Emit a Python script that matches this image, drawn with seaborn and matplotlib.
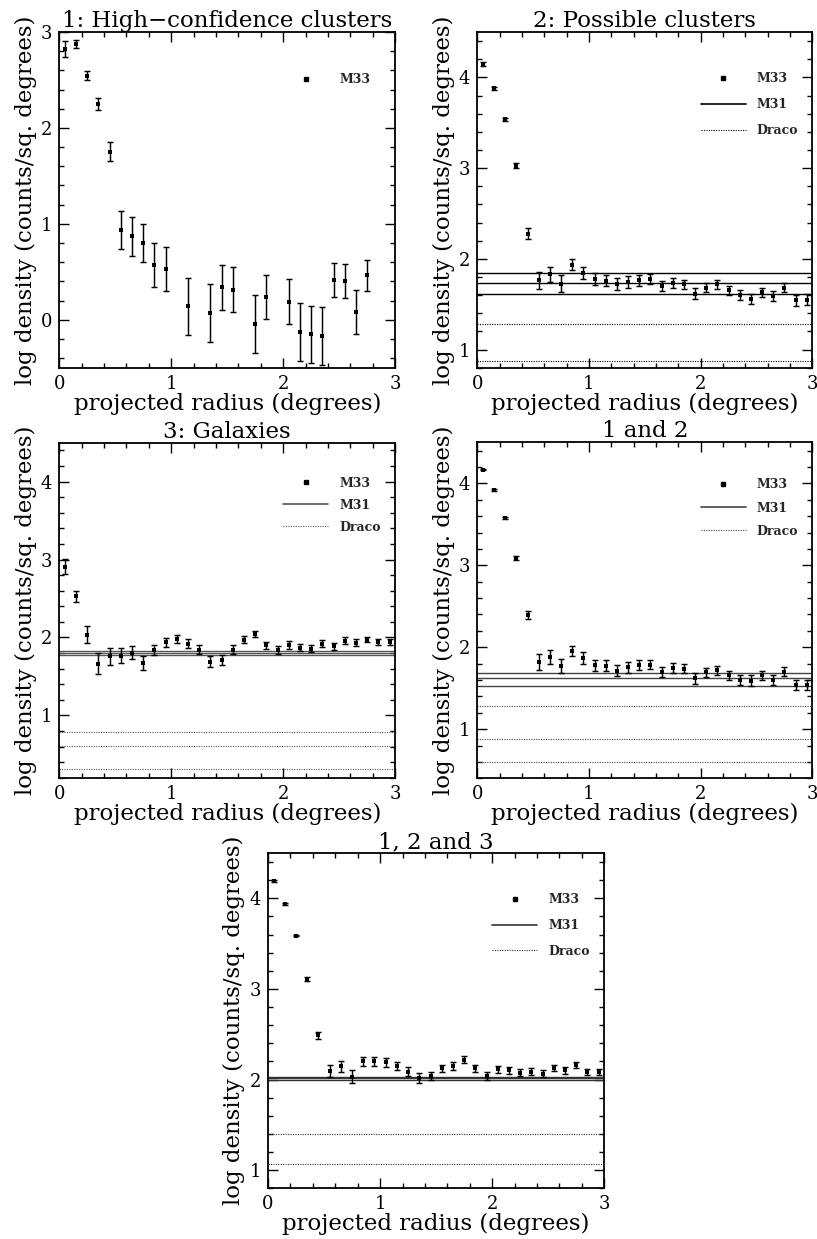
import matplotlib
matplotlib.use("Agg")
import matplotlib.pyplot as plt
from matplotlib.lines import Line2D
from matplotlib.ticker import MultipleLocator
import seaborn as sns
import pandas as pd

sns.set_theme(style="ticks")
plt.rcParams['font.family'] = ['DejaVu Serif', 'DejaVu Sans']
plt.rcParams['mathtext.fontset'] = 'dejavuserif'

# ---------------- data ----------------
radius = [0.05, 0.15, 0.25, 0.35, 0.45, 0.55, 0.65, 0.75, 0.85, 0.95,
          1.05, 1.15, 1.25, 1.35, 1.45, 1.55, 1.65, 1.75, 1.85, 1.95,
          2.05, 2.15, 2.25, 2.35, 2.45, 2.55, 2.65, 2.75, 2.85, 2.95]

# 1: High-confidence clusters (empty bins omitted)
radius_1 = [0.05, 0.15, 0.25, 0.35, 0.45, 0.55, 0.65, 0.75, 0.85, 0.95,
            1.15, 1.35, 1.45, 1.55, 1.75, 1.85, 2.05, 2.15, 2.25, 2.35,
            2.45, 2.55, 2.65, 2.75]
logdens_1 = [2.82, 2.875, 2.545, 2.25, 1.753, 0.934, 0.868, 0.80, 0.573, 0.528,
             0.139, 0.069, 0.34, 0.313, -0.042, 0.236, 0.19, -0.128, -0.153, -0.17,
             0.41, 0.40, 0.08, 0.462]
err_1 = [0.085, 0.04, 0.045, 0.065, 0.097, 0.2, 0.2, 0.2, 0.23, 0.23,
         0.3, 0.3, 0.235, 0.235, 0.3, 0.233, 0.233, 0.3, 0.3, 0.3,
         0.177, 0.177, 0.233, 0.165]

# 2: Possible clusters
logdens_2 = [4.15, 3.88, 3.537, 3.027, 2.278, 1.764, 1.83, 1.727, 1.936, 1.844,
             1.782, 1.76, 1.72, 1.745, 1.764, 1.778, 1.697, 1.734, 1.72, 1.617,
             1.683, 1.72, 1.653, 1.606, 1.56, 1.63, 1.59, 1.683, 1.543, 1.55]
err_2 = [0.02, 0.015, 0.015, 0.028, 0.06, 0.095, 0.085, 0.09, 0.063, 0.07,
         0.065, 0.062, 0.065, 0.065, 0.06, 0.055, 0.055, 0.055, 0.05, 0.06,
         0.05, 0.05, 0.05, 0.055, 0.057, 0.05, 0.057, 0.048, 0.062, 0.062]
m31_2 = [1.848, 1.738, 1.617]
draco_2 = [1.282, 0.878]

# 3: Galaxies
logdens_3 = [2.909, 2.526, 2.036, 1.665, 1.759, 1.767, 1.806, 1.674, 1.84, 1.938,
             1.98, 1.92, 1.844, 1.686, 1.708, 1.844, 1.972, 2.04, 1.9, 1.836,
             1.9, 1.87, 1.857, 1.917, 1.887, 1.96, 1.934, 1.972, 1.946, 1.942]
err_3 = [0.1, 0.075, 0.11, 0.14, 0.11, 0.1, 0.083, 0.09, 0.065, 0.06,
         0.057, 0.055, 0.06, 0.07, 0.065, 0.053, 0.047, 0.04, 0.047, 0.05,
         0.05, 0.049, 0.047, 0.045, 0.045, 0.04, 0.04, 0.036, 0.04, 0.043]
m31_3 = [1.822, 1.80, 1.778]
draco_3 = [0.783, 0.604, 0.306]

# 1 and 2
logdens_4 = [4.17, 3.919, 3.58, 3.09, 2.39, 1.817, 1.882, 1.776, 1.955, 1.87,
             1.78, 1.776, 1.715, 1.756, 1.78, 1.789, 1.695, 1.748, 1.736, 1.622,
             1.695, 1.72, 1.659, 1.602, 1.593, 1.659, 1.602, 1.703, 1.54, 1.54]
err_4 = [0.01, 0.01, 0.01, 0.02, 0.05, 0.095, 0.085, 0.085, 0.063, 0.07,
         0.07, 0.067, 0.07, 0.067, 0.063, 0.057, 0.06, 0.057, 0.055, 0.067,
         0.057, 0.057, 0.057, 0.059, 0.063, 0.055, 0.059, 0.05, 0.065, 0.065]
m31_4 = [1.691, 1.622, 1.528]
draco_4 = [1.285, 0.878, 0.598]

# 1, 2 and 3
logdens_5 = [4.194, 3.938, 3.589, 3.109, 2.489, 2.093, 2.148, 2.031, 2.203, 2.203,
             2.189, 2.148, 2.086, 2.02, 2.038, 2.122, 2.148, 2.22, 2.126, 2.038,
             2.115, 2.104, 2.075, 2.086, 2.064, 2.13, 2.1, 2.159, 2.086, 2.086]
err_5 = [0.01, 0.01, 0.01, 0.02, 0.04, 0.066, 0.06, 0.07, 0.05, 0.048,
         0.048, 0.048, 0.048, 0.053, 0.046, 0.044, 0.044, 0.036, 0.04, 0.04,
         0.04, 0.04, 0.037, 0.037, 0.038, 0.035, 0.035, 0.031, 0.035, 0.035]
m31_5 = [2.031, 2.013, 1.994]
draco_5 = [1.40, 1.066]

titles = ["1: High\u2212confidence clusters", "2: Possible clusters", "3: Galaxies",
          "1 and 2", "1, 2 and 3"]
xlabel = "projected radius (degrees)"
ylabel = "log density (counts/sq. degrees)"
legend_labels = ["M33", "M31", "Draco"]

# ---------------- figure ----------------
W, H = 817, 1239
fig = plt.figure(figsize=(W / 100, H / 100), dpi=100)


def axes_px(left, top, width, height):
    return fig.add_axes([left / W, 1 - (top + height) / H, width / W, height / H])


panels = [
    dict(box=(59.3, 32, 336, 335.7), r=radius_1, d=logdens_1, e=err_1, ylim=(-0.5, 3.0),
         m31=[], draco=[], lc='black', leg=1, legy=2.5),
    dict(box=(477.3, 32, 335, 335.7), r=radius, d=logdens_2, e=err_2, ylim=(0.8, 4.5),
         m31=m31_2, draco=draco_2, lc='black', leg=3, legy=3.7),
    dict(box=(59.3, 442.7, 336, 335), r=radius, d=logdens_3, e=err_3, ylim=(0.2, 4.5),
         m31=m31_3, draco=draco_3, lc='#555555', leg=3, legy=3.7),
    dict(box=(477.3, 442.5, 335, 335.8), r=radius, d=logdens_4, e=err_4, ylim=(0.4, 4.5),
         m31=m31_4, draco=draco_4, lc='#444444', leg=3, legy=3.7),
    dict(box=(268, 853, 336.3, 335.3), r=radius, d=logdens_5, e=err_5, ylim=(0.8, 4.5),
         m31=m31_5, draco=draco_5, lc='#333333', leg=3, legy=3.7),
]

LEG_FS = 9
LABEL_FS = 16.5
for p, title in zip(panels, titles):
    ax = axes_px(*p['box'])
    df = pd.DataFrame({'r': p['r'], 'd': p['d'], 'e': p['e']})
    ax.errorbar(df['r'], df['d'], yerr=df['e'], fmt='none', ecolor='black',
                elinewidth=1.05, capsize=2.2, capthick=1.05, zorder=2)
    sns.scatterplot(data=df, x='r', y='d', marker='s', s=9, color='black',
                    linewidth=0, ax=ax, legend=False, zorder=3)
    for v in p['m31']:
        ax.axhline(v, color=p['lc'], lw=1.0, zorder=1)
    for v in p['draco']:
        ax.axhline(v, color=p['lc'], lw=0.8, ls=(0, (1, 1.2)), zorder=1)

    ax.set_xlim(0, 3)
    ax.set_ylim(*p['ylim'])
    ax.xaxis.set_major_locator(MultipleLocator(1))
    ax.xaxis.set_minor_locator(MultipleLocator(0.2))
    ax.yaxis.set_major_locator(MultipleLocator(1))
    ax.yaxis.set_minor_locator(MultipleLocator(0.2))
    ax.tick_params(which='both', direction='in', top=True, right=True,
                   colors='black', labelsize=13, width=1.0)
    ax.tick_params(which='major', length=7, pad=5)
    ax.tick_params(which='minor', length=3.5)
    for s in ax.spines.values():
        s.set_linewidth(1.3)
        s.set_color('black')
    ax.set_xlabel(xlabel, fontsize=LABEL_FS, labelpad=0, color='black')
    ax.set_ylabel(ylabel, fontsize=LABEL_FS, labelpad=3, color='black')
    ax.set_title(title, fontsize=LABEL_FS, pad=3, color='black')

    handles = [Line2D([], [], ls='none', marker='s', ms=3.2, color='black'),
               Line2D([], [], color=p['lc'], lw=1.2),
               Line2D([], [], color=p['lc'], lw=0.8, ls=(0, (1, 1.2)))][:p['leg']]
    yr = p['ylim'][1] - p['ylim'][0]
    pitch_px = 0.3 * p['box'][3] / yr
    spacing = max(0.1, (pitch_px - 1.15 * LEG_FS * 100 / 72) / (LEG_FS * 100 / 72))
    ax.legend(handles, legend_labels[:p['leg']], loc='center left',
              bbox_to_anchor=(2.0, p['legy']), bbox_transform=ax.transData,
              frameon=False, handlelength=3.6, handletextpad=0.9,
              borderpad=0, borderaxespad=0, labelspacing=spacing,
              prop={'size': LEG_FS, 'weight': 'bold'})

fig.savefig("out.png", dpi=100)
